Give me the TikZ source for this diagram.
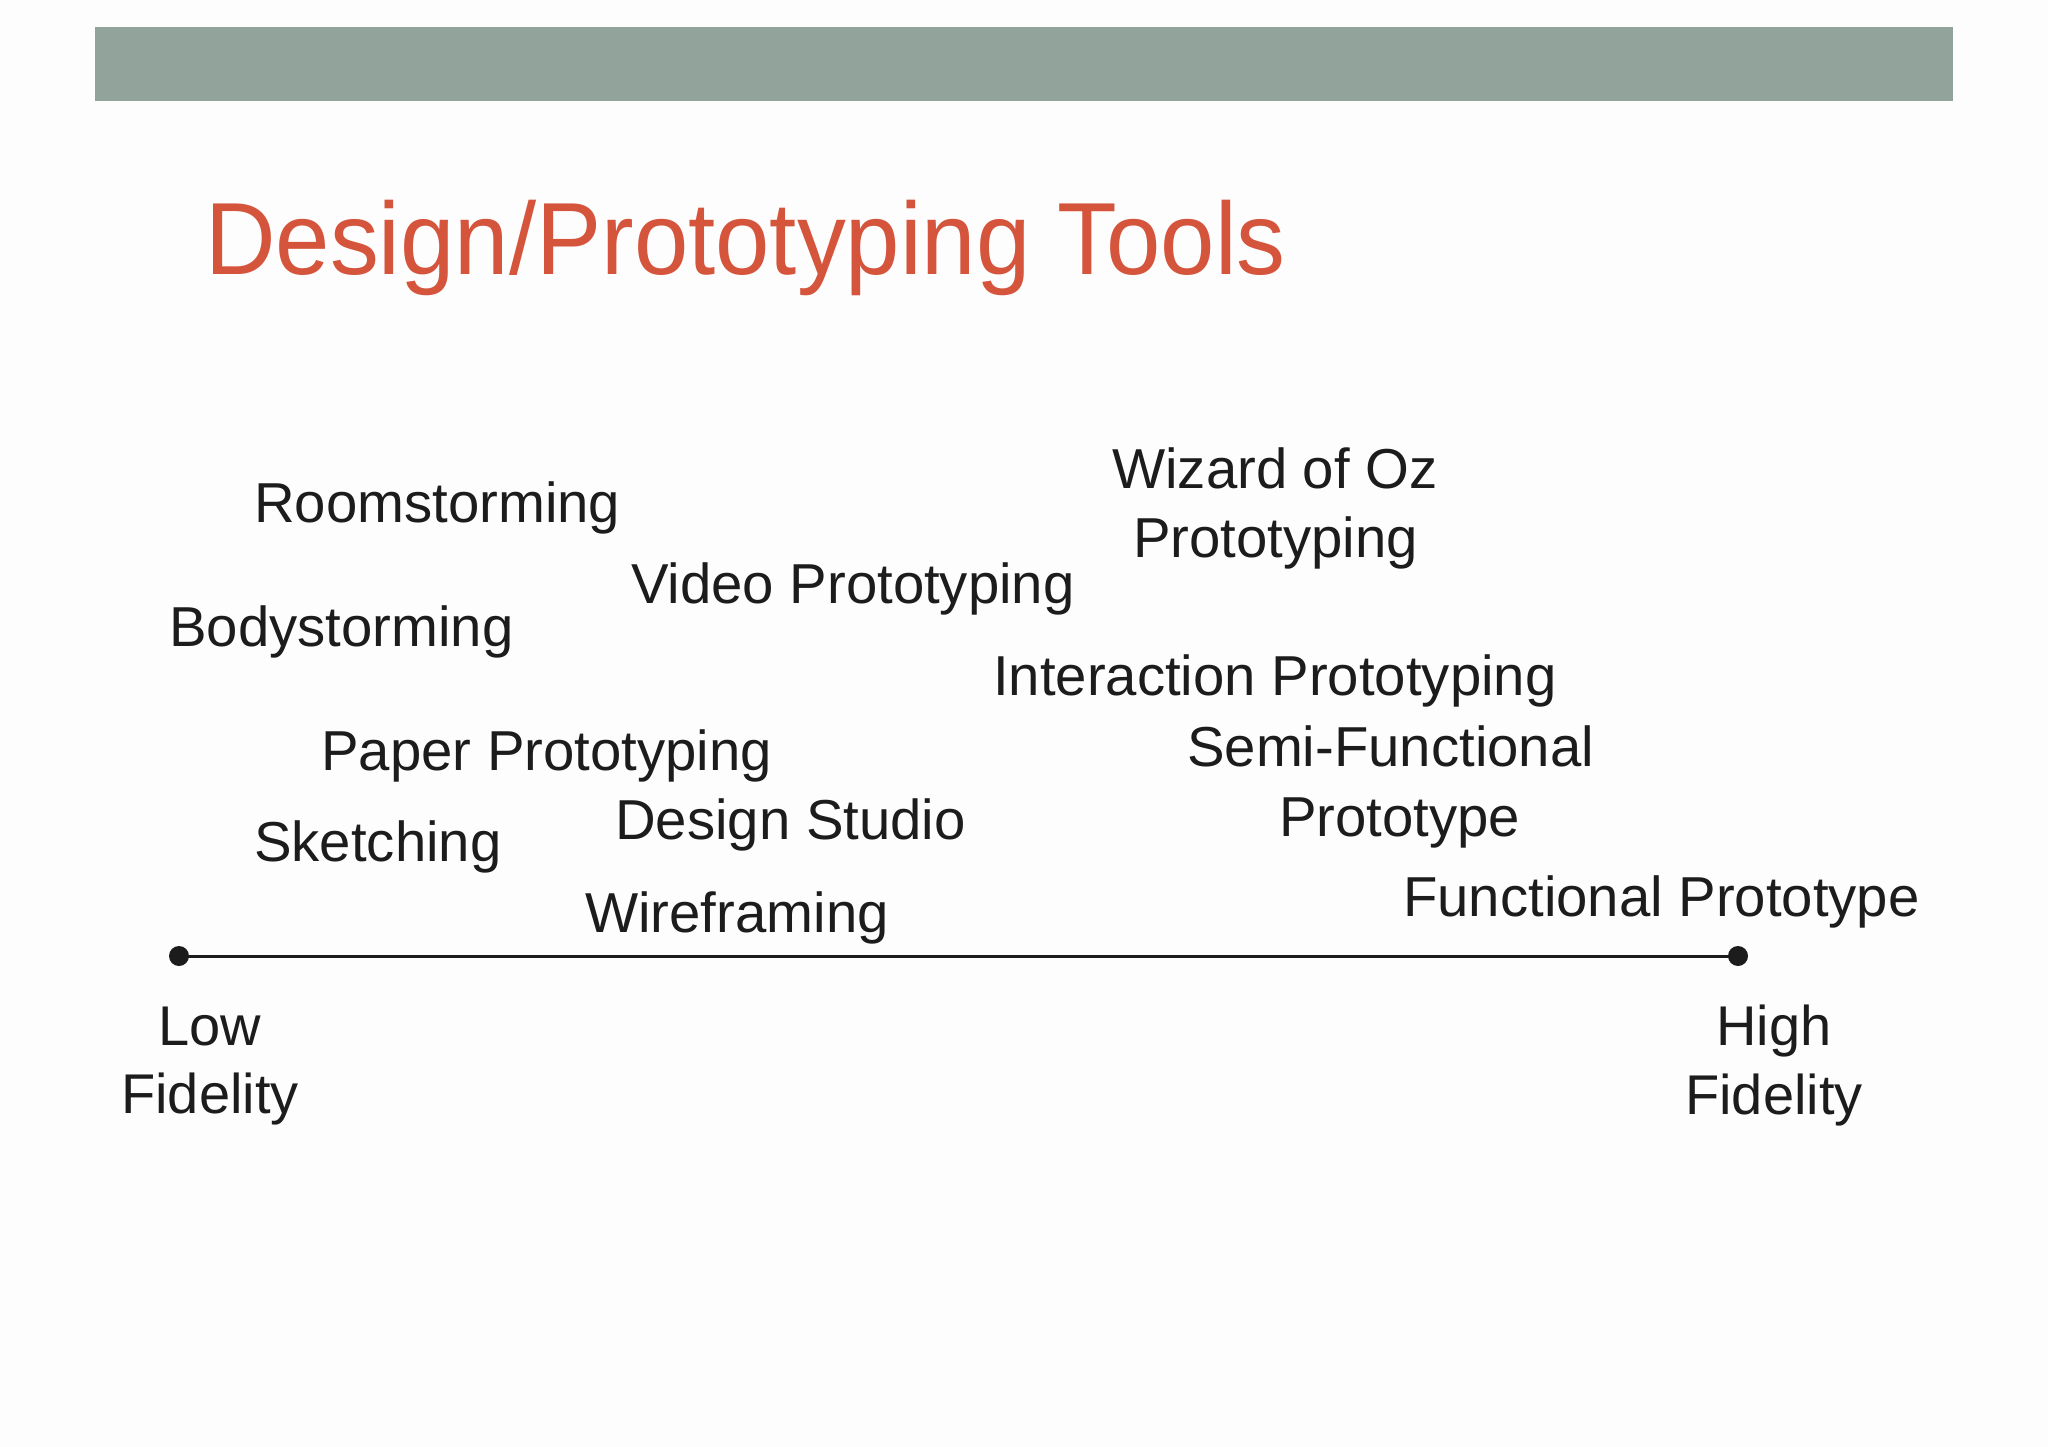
\documentclass[tikz,border=0pt]{standalone}
\usepackage{fontspec}
\setmainfont{Liberation Sans}
\definecolor{barcol}{RGB}{145,163,154}
\definecolor{titlecol}{RGB}{213,84,60}
\definecolor{inkcol}{RGB}{28,28,28}
\definecolor{bgcol}{RGB}{254,253,254}
\begin{document}
\begin{tikzpicture}[x=1pt,y=-1pt,
  lbl/.style={inner sep=0pt,anchor=base west,text=inkcol,font=\fontsize{56.3}{66}\selectfont},
  clbl/.style={inner sep=0pt,anchor=base,text=inkcol,font=\fontsize{56}{66}\selectfont},
  dotend/.style={circle,fill=inkcol,inner sep=0pt,minimum size=20pt}]
\useasboundingbox (0,0) rectangle (2048,1447);
\fill[bgcol] (0,0) rectangle (2048,1447);
\fill[barcol] (95,27) rectangle (1953,101);
\node[inner sep=0pt,anchor=base west,text=titlecol,font=\fontsize{97.7}{110}\selectfont] (title) at (205,275) {\scalebox{1}[1.05]{Design/Prototyping Tools}};
% items
\node[lbl] (room) at (254,522) {Roomstorming};
\node[lbl] (body) at (169,646) {Bodystorming};
\node[lbl] (video) at (631,603) {Video Prototyping};
\node[lbl] (wiz1) at (1112,488) {Wizard of Oz};
\node[lbl] (wiz2) at (1133,557) {Prototyping};
\node[lbl] (inter) at (993,695) {Interaction Prototyping};
\node[lbl] (semi1) at (1187,766) {Semi-Functional};
\node[lbl] (semi2) at (1279,836) {Prototype};
\node[lbl] (paper) at (321,770) {Paper Prototyping};
\node[lbl] (sketch) at (254,861) {Sketching};
\node[lbl] (studio) at (615,839) {Design Studio};
\node[lbl] (wire) at (585,932) {Wireframing};
\node[lbl] (func) at (1403,916) {Functional Prototype};
% axis
\node[dotend] (lowdot) at (179,956) {};
\node[dotend] (highdot) at (1738,956) {};
\draw[inkcol,line width=3pt] (lowdot.center) -- (highdot.center);
\node[clbl] (low1) at (210,1045) {Low};
\node[clbl] (low2) at (210,1113) {Fidelity};
\node[clbl] (high1) at (1774,1045) {High};
\node[clbl] (high2) at (1774,1114) {Fidelity};
\end{tikzpicture}
\end{document}
